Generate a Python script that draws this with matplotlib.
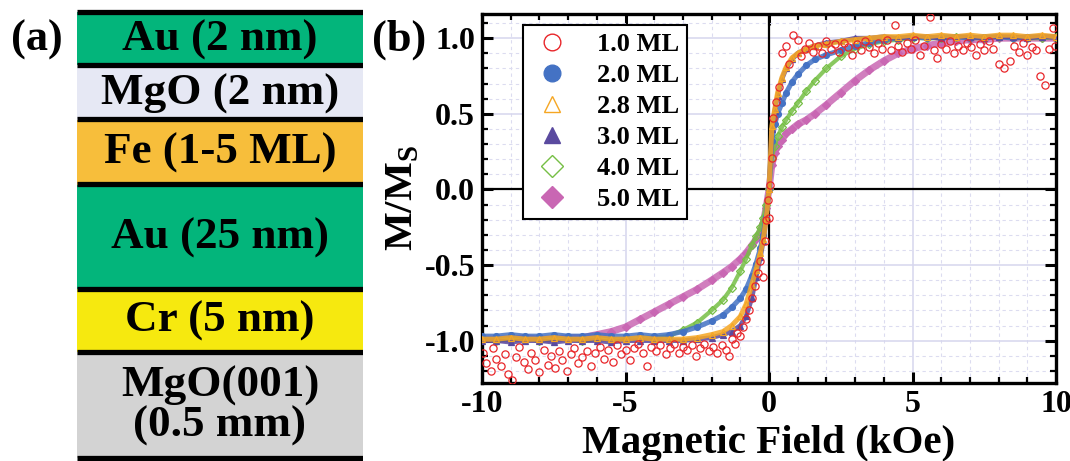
import matplotlib
matplotlib.use("Agg")
import matplotlib.pyplot as plt
from matplotlib.lines import Line2D
from matplotlib.ticker import MultipleLocator, FormatStrFormatter

plt.rcParams["font.family"] = ["Liberation Serif", "DejaVu Serif"]
plt.rcParams["font.weight"] = "bold"
plt.rcParams["axes.unicode_minus"] = False
plt.rcParams["mathtext.fontset"] = "custom"
plt.rcParams["mathtext.rm"] = "Liberation Serif"

# %%
# (a) layer stack, top to bottom
layer_names = ["Au (2 nm)", "MgO (2 nm)", "Fe (1-5 ML)", "Au (25 nm)", "Cr (5 nm)", "MgO(001)\n(0.5 mm)"]
layer_colors = ["#03b57b", "#e6e8f4", "#f7be3b", "#03b57b", "#f6e90f", "#d3d3d3"]
layer_draw_height = [53, 54, 65, 104, 63.5, 105.5]

# (b) M/Ms vs field, shared field grid (kOe)
field = [-10, -9.5, -9, -8.5, -8, -7.5, -7, -6.5, -6, -5.5, -5, -4.5, -4, -3.5, -3, -2.5, -2,
         -1.6, -1.3, -1.0, -0.8, -0.6, -0.45, -0.3, -0.2, -0.1, 0,
         0.1, 0.2, 0.3, 0.45, 0.6, 0.8, 1.0, 1.3, 1.6,
         2, 2.5, 3, 3.5, 4, 4.5, 5, 5.5, 6, 6.5, 7, 7.5, 8, 8.5, 9, 9.5, 10]

m_50 = [-0.99, -0.99, -0.99, -0.98, -0.99, -0.99, -0.98, -0.98, -0.96, -0.94, -0.91, -0.86, -0.81, -0.76, -0.71, -0.66, -0.60,
        -0.55, -0.51, -0.46, -0.42, -0.37, -0.33, -0.28, -0.22, -0.12, 0.0,
        0.16, 0.24, 0.29, 0.33, 0.37, 0.40, 0.43, 0.46, 0.50,
        0.56, 0.64, 0.72, 0.79, 0.85, 0.90, 0.93, 0.95, 0.97, 0.98, 0.99, 0.99, 1.0, 1.0, 1.0, 1.0, 1.0]
m_40 = [-0.99, -1.0, -0.99, -0.99, -1.0, -0.99, -0.99, -1.0, -0.99, -0.99, -0.99, -0.98, -0.98, -0.97, -0.93, -0.88, -0.80,
        -0.73, -0.65, -0.54, -0.46, -0.37, -0.31, -0.25, -0.19, -0.10, 0.0,
        0.21, 0.29, 0.35, 0.41, 0.46, 0.52, 0.57, 0.65, 0.72,
        0.80, 0.88, 0.93, 0.96, 0.98, 0.99, 1.0, 1.0, 1.0, 1.01, 1.0, 1.0, 1.01, 1.0, 1.0, 1.0, 1.01]
m_20 = [-0.97, -0.97, -0.96, -0.97, -0.97, -0.96, -0.97, -0.97, -0.96, -0.97, -0.97, -0.96, -0.97, -0.96, -0.94, -0.91, -0.87,
        -0.83, -0.78, -0.72, -0.66, -0.57, -0.49, -0.39, -0.30, -0.18, 0.0,
        0.32, 0.43, 0.50, 0.57, 0.64, 0.71, 0.76, 0.82, 0.86,
        0.89, 0.92, 0.95, 0.97, 0.99, 1.0, 1.01, 1.0, 1.01, 1.01, 1.0, 1.01, 1.01, 1.0, 1.01, 1.01, 1.01]
m_30 = [-1.0, -1.0, -1.01, -1.0, -1.0, -1.01, -1.0, -1.0, -1.0, -1.01, -1.0, -1.0, -1.0, -1.0, -1.0, -0.99, -0.98,
        -0.96, -0.94, -0.90, -0.84, -0.72, -0.58, -0.45, -0.34, -0.20, 0.0,
        0.40, 0.52, 0.62, 0.73, 0.80, 0.86, 0.90, 0.93, 0.95,
        0.97, 0.98, 1.0, 1.0, 1.01, 1.0, 1.01, 1.01, 1.0, 1.01, 1.01, 1.0, 1.01, 1.01, 1.0, 1.01, 1.01]
m_28 = [-0.99, -0.99, -0.98, -0.99, -0.99, -0.98, -0.99, -0.99, -0.98, -0.99, -0.99, -0.98, -0.99, -0.99, -0.99, -0.98, -0.96,
        -0.94, -0.90, -0.84, -0.76, -0.63, -0.53, -0.42, -0.33, -0.20, 0.0,
        0.42, 0.53, 0.64, 0.74, 0.81, 0.87, 0.90, 0.93, 0.95,
        0.96, 0.98, 0.99, 1.0, 1.01, 1.01, 1.02, 1.01, 1.02, 1.01, 1.02, 1.01, 1.02, 1.02, 1.01, 1.02, 1.01]

# 1.0 ML is noisy, read point by point
field_10 = [-9.95, -9.85, -9.7, -9.6, -9.5, -9.35, -9.2, -9.1, -8.95, -8.8, -8.7, -8.55, -8.4, -8.3, -8.15,
            -8.0, -7.85, -7.7, -7.6, -7.45, -7.3, -7.2, -7.05, -6.9, -6.8, -6.65, -6.5, -6.35, -6.2, -6.05,
            -5.9, -5.75, -5.6, -5.45, -5.3, -5.15, -5.0, -4.85, -4.7, -4.55, -4.4, -4.25, -4.1, -3.95, -3.8,
            -3.6, -3.45, -3.3, -3.15, -3.0, -2.85, -2.7, -2.55, -2.4, -2.25, -2.1, -1.95, -1.8, -1.65, -1.5,
            -1.4, -1.3, -1.2, -1.1, -1.0, -0.9, -0.8, -0.7, -0.6, -0.5, -0.4, -0.3, -0.22, -0.15, -0.1, -0.05,
            0.0, 0.05, 0.1, 0.15, 0.25, 0.35, 0.45, 0.6, 0.7, 0.85, 1.0, 1.1, 1.25, 1.4, 1.55, 1.7, 1.85,
            2.0, 2.15, 2.3, 2.45, 2.6, 2.75, 2.9, 3.05, 3.2, 3.35, 3.5, 3.65, 3.8, 3.95, 4.1, 4.25, 4.4, 4.5,
            4.65, 4.8, 4.95, 5.1, 5.25, 5.4, 5.6, 5.75, 5.85, 6.0, 6.15, 6.3, 6.45, 6.6, 6.75, 6.9, 7.05,
            7.2, 7.35, 7.5, 7.65, 7.8, 8.0, 8.2, 8.4, 8.55, 8.7, 8.85, 9.0, 9.15, 9.3, 9.45, 9.6, 9.75, 9.9, 9.97]
m_10 = [-1.08, -1.15, -1.20, -1.05, -1.12, -1.17, -1.09, -1.22, -1.26, -1.11, -1.04, -1.14, -1.19, -1.08, -1.13,
        -1.21, -1.06, -1.16, -1.10, -1.18, -1.07, -1.13, -1.20, -1.09, -1.05, -1.15, -1.11, -1.07, -1.17, -1.08,
        -1.04, -1.12, -1.06, -1.14, -1.03, -1.09, -1.06, -1.13, -1.05, -1.02, -1.08, -1.17, -1.04, -1.07, -1.03,
        -1.09, -1.05, -1.02, -1.08, -1.04, -1.06, -1.03, -1.10, -1.05, -1.02, -1.07, -1.04, -1.08, -1.03, -1.06,
        -1.10, -0.99, -1.02, -0.95, -0.97, -0.91, -0.86, -0.80, -0.72, -0.64, -0.55, -0.47, -0.58, -0.34, -0.20, -0.07,
        -0.19, 0.03, 0.21, 0.47, 0.58, 0.68, 0.90, 0.95, 0.83, 1.02, 0.99, 0.88, 0.93, 0.97, 0.91, 0.95, 0.90,
        0.98, 0.93, 0.96, 0.91, 0.97, 0.94, 0.89, 0.96, 0.92, 0.98, 0.94, 0.90, 0.97, 0.93, 0.99, 0.92, 1.09, 0.95,
        0.91, 0.97, 0.93, 0.99, 0.89, 0.95, 1.14, 0.92, 0.87, 0.96, 0.93, 0.98, 0.90, 0.95, 0.92, 0.97, 0.94,
        0.89, 0.96, 0.92, 0.98, 0.93, 0.83, 0.80, 0.85, 0.95, 0.91, 0.97, 0.89, 0.94, 0.92, 0.75, 0.69, 0.93, 1.07, 0.95]

series = [
    # label, x, y, color, marker, filled, band width
    ("5.0 ML", field, m_50, "#c967b3", "D", True, 5.0),
    ("4.0 ML", field, m_40, "#76bf45", "D", False, 3.0),
    ("2.0 ML", field, m_20, "#4472c4", "o", True, 3.6),
    ("3.0 ML", field, m_30, "#5a4a9f", "^", True, 3.4),
    ("2.8 ML", field, m_28, "#f5a623", "^", False, 3.6),
    ("1.0 ML", field_10, m_10, "#e8262a", "o", False, 0),
]
legend_order = ["1.0 ML", "2.0 ML", "2.8 ML", "3.0 ML", "4.0 ML", "5.0 ML"]

# %%
fig = plt.figure(figsize=(10.7, 4.61), dpi=100)

# panel (a)
ax_a = fig.add_axes([77 / 1070, 0, (363 - 77) / 1070, 1])
ax_a.set_xlim(0, 1)
ax_a.set_ylim(461, 0)
ax_a.axis("off")
edges = [12.5]
for h in layer_draw_height:
    edges.append(edges[-1] + h)
ax_a.bar(0.5, layer_draw_height, bottom=edges[:-1], width=1, color=layer_colors, linewidth=0)
ax_a.hlines(edges, 0, 1, color="black", lw=3.8)
for name, lo, hi in zip(layer_names, edges[:-1], edges[1:]):
    ax_a.text(0.5, (lo + hi) / 2 + 1, name, ha="center", va="center", fontsize=32.5,
              fontweight="bold", linespacing=0.98)

fig.text(37 / 1070, 1 - 40 / 461, "(a)", ha="center", va="center", fontsize=32, fontweight="bold")
fig.text(399 / 1070, 1 - 40 / 461, "(b)", ha="center", va="center", fontsize=32, fontweight="bold")

# panel (b)
ax = fig.add_axes([482 / 1070, 1 - 383 / 461, (1056 - 482) / 1070, (383 - 14) / 461])
handles = {}
for z, (label, x, y, color, marker, filled, band) in enumerate(series):
    ms = 4.5 if marker == "D" else 4.2
    if label == "1.0 ML":
        ms = 5.2
    if band > 0:
        ax.plot(x, y, color=color, lw=band, alpha=0.85, zorder=2 + z, solid_capstyle="round")
    ax.plot(x, y, ls="none", marker=marker, ms=ms, mew=0.9, mec=color,
            mfc=color if filled else "none", zorder=2 + z)
    handles[label] = Line2D([], [], ls="none", marker=marker, ms=12 if marker != "D" else 11,
                            mew=1.0, mec=color, mfc=color if filled else "none")

ax.axhline(0, color="black", lw=1.6, zorder=1.5)
ax.axvline(0, color="black", lw=1.6, zorder=1.5)

ax.set_xlim(-10, 10)
ax.set_ylim(-1.28, 1.16)
ax.set_xticks([-10, -5, 0, 5, 10])
ax.set_yticks([-1.0, -0.5, 0.0, 0.5, 1.0])
ax.xaxis.set_minor_locator(MultipleLocator(1))
ax.yaxis.set_minor_locator(MultipleLocator(0.1))
ax.yaxis.set_major_formatter(FormatStrFormatter("%.1f"))
ax.set_axisbelow(True)
ax.grid(which="major", color="#d6d6ee", lw=1.1, ls="-")
ax.grid(which="minor", color="#dcdcf0", lw=0.8, ls=(0, (3, 3)))
ax.tick_params(which="both", direction="in", top=True, right=True, labelsize=23)
ax.tick_params(which="major", length=8, width=2.2, pad=5)
ax.tick_params(which="minor", length=4.5, width=1.6)
for sp in ax.spines.values():
    sp.set_linewidth(2.4)
for t in ax.get_xticklabels() + ax.get_yticklabels():
    t.set_fontweight("bold")

ax.set_xlabel("Magnetic Field (kOe)", fontsize=29.5, fontweight="bold", labelpad=4)
ax.set_ylabel(r"M/M$_\mathrm{S}$", fontsize=29.5, fontweight="bold", labelpad=2)

leg = ax.legend([handles[k] for k in legend_order], legend_order, loc="upper left",
                bbox_to_anchor=(0.0714, 0.97), borderaxespad=0, fontsize=19, frameon=True,
                fancybox=False, framealpha=1, edgecolor="black", labelspacing=0.28,
                handletextpad=0.9, borderpad=0.3, handlelength=1.6)
leg.get_frame().set_linewidth(1.5)
leg.set_zorder(20)

fig.savefig("out.png", dpi=100)
